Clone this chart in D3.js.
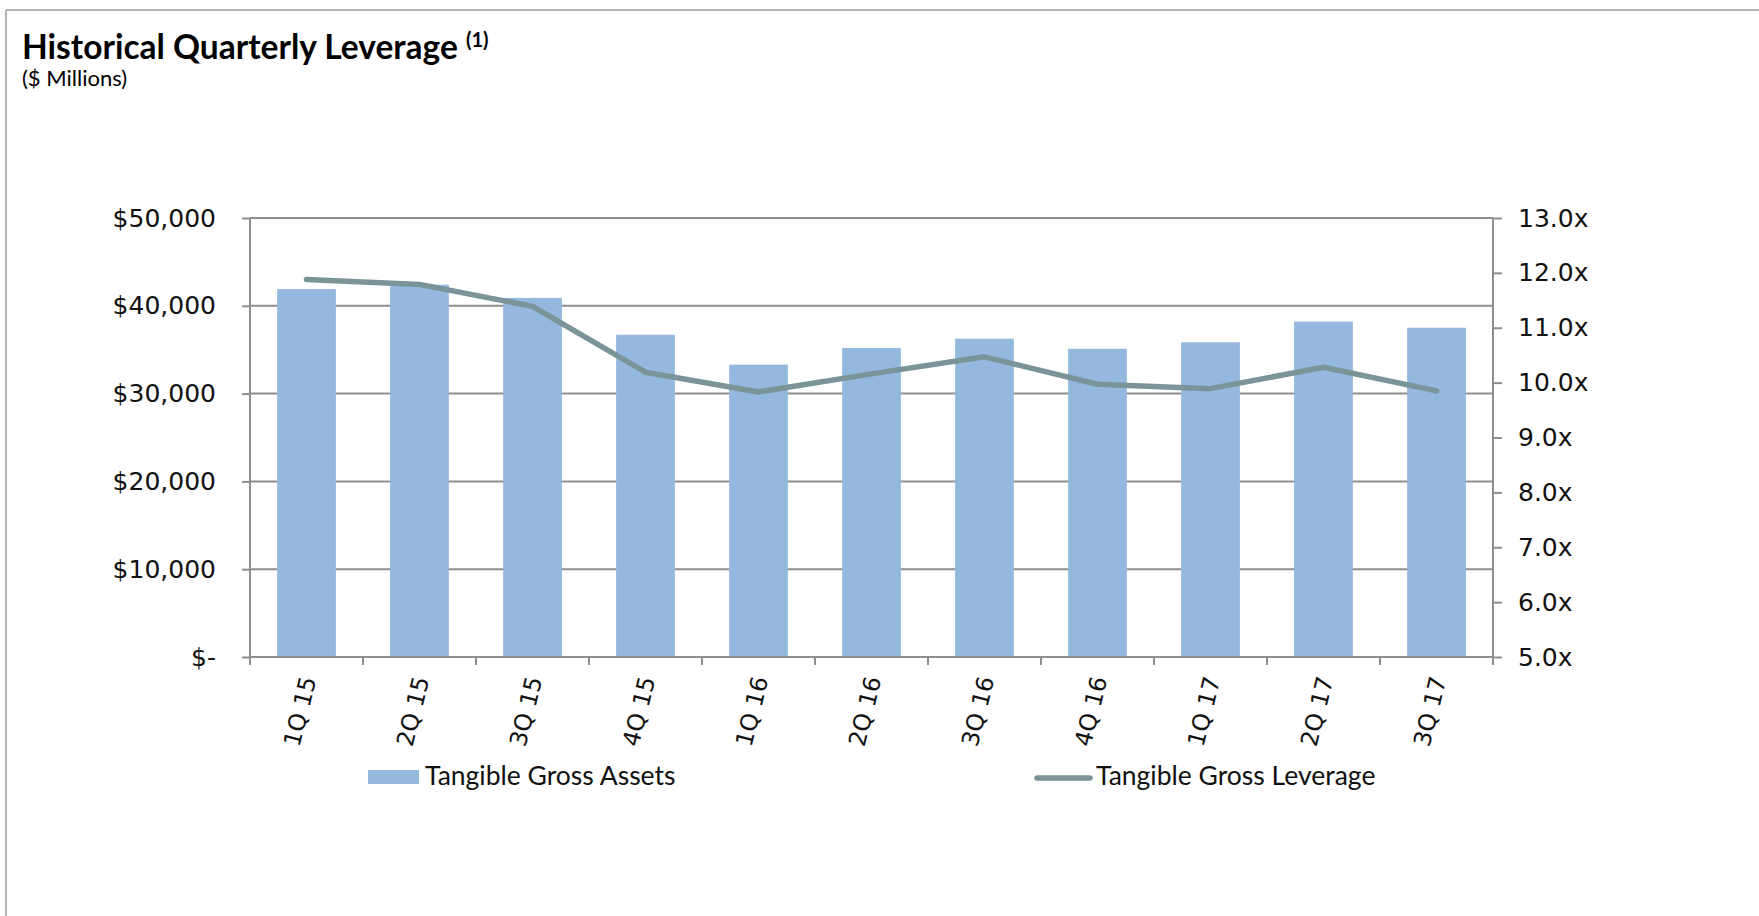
<!DOCTYPE html>
<html>
<head>
<meta charset="utf-8">
<script src="https://cdn.jsdelivr.net/npm/d3@7"></script>
<style>
  html, body { margin: 0; padding: 0; background: #fff; }
  svg { display: block; }
</style>
</head>
<body>
<svg id="chart" width="1759" height="916"></svg>
<script>
// ---- Data ----
const categories = ["1Q 15","2Q 15","3Q 15","4Q 15","1Q 16","2Q 16","3Q 16","4Q 16","1Q 17","2Q 17","3Q 17"];
const tangibleGrossAssets = [41900, 42400, 40900, 36700, 33300, 35200, 36250, 35100, 35850, 38200, 37500];
const tangibleGrossLeverage = [11.88, 11.79, 11.39, 10.19, 9.83, 10.16, 10.47, 9.97, 9.89, 10.28, 9.85];
const leftTicks = [0, 10000, 20000, 30000, 40000, 50000];
const rightTicks = [5, 6, 7, 8, 9, 10, 11, 12, 13];
const seriesNames = ["Tangible Gross Assets", "Tangible Gross Leverage"];

// ---- Layout ----
const svg = d3.select("#chart");
const W = 1759, H = 916;
const plot = { left: 250, right: 1493, top: 218, bottom: 657 };
const gridColor = "#8e8e8e";
const barColor = "#95b9de";
const lineColor = "#7a9499";
const tickFont = "'DejaVu Sans', sans-serif";
const textFont = "Lato, 'Liberation Sans', sans-serif";

svg.append("rect").attr("width", W).attr("height", H).attr("fill", "#fff");

// frame (top and left border)
svg.append("line").attr("x1", 6).attr("x2", W).attr("y1", 10).attr("y2", 10)
  .attr("stroke", "#b3b3b3").attr("stroke-width", 2);
svg.append("line").attr("x1", 6).attr("x2", 6).attr("y1", 10).attr("y2", H)
  .attr("stroke", "#b3b3b3").attr("stroke-width", 2);

// title
const title = svg.append("text").attr("x", 22).attr("y", 59)
  .attr("font-family", textFont).attr("font-weight", 700).attr("font-size", 33.5)
  .attr("fill", "#000");
title.append("tspan").text("Historical Quarterly Leverage ");
title.append("tspan").attr("font-size", 20).attr("dy", -12).text("(1)");
svg.append("text").attr("x", 22).attr("y", 86)
  .attr("font-family", textFont).attr("font-size", 22).attr("fill", "#000")
  .text("($ Millions)");

// scales
const x = d3.scaleBand().domain(categories).range([plot.left, plot.right]).paddingInner(0.48).paddingOuter(0.24);
const xOuter = d3.scaleBand().domain(categories).range([plot.left, plot.right]);
const yL = d3.scaleLinear().domain([0, 50000]).range([plot.bottom, plot.top]);
const yR = d3.scaleLinear().domain([5, 13]).range([plot.bottom, plot.top]);

// left axis ticks + labels
const fmtLeft = v => v === 0 ? "$-" : "$" + d3.format(",")(v);
const gLeft = svg.append("g").attr("transform", `translate(${plot.left},0)`)
  .call(d3.axisLeft(yL).tickValues(leftTicks).tickFormat(fmtLeft).tickSize(8).tickPadding(26));
gLeft.select(".domain").remove();
gLeft.selectAll(".tick line").attr("stroke", gridColor).attr("stroke-width", 2);
gLeft.selectAll(".tick text").attr("font-family", tickFont).attr("font-size", 25).attr("fill", "#111");

// gridlines
svg.append("g").selectAll("line").data(leftTicks).join("line")
  .attr("x1", plot.left).attr("x2", plot.right)
  .attr("y1", d => yL(d)).attr("y2", d => yL(d))
  .attr("stroke", gridColor).attr("stroke-width", 2);

// bars
svg.append("g").selectAll("rect").data(categories).join("rect")
  .attr("x", d => x(d)).attr("width", x.bandwidth())
  .attr("y", (d, i) => yL(tangibleGrossAssets[i]))
  .attr("height", (d, i) => yL(0) - yL(tangibleGrossAssets[i]))
  .attr("fill", barColor);

// baseline over bars
svg.append("line").attr("x1", plot.left).attr("x2", plot.right)
  .attr("y1", yL(0)).attr("y2", yL(0)).attr("stroke", gridColor).attr("stroke-width", 2);

// vertical axis lines
svg.append("line").attr("x1", plot.left).attr("x2", plot.left)
  .attr("y1", plot.top).attr("y2", plot.bottom + 8).attr("stroke", gridColor).attr("stroke-width", 2);
svg.append("line").attr("x1", plot.right).attr("x2", plot.right)
  .attr("y1", plot.top).attr("y2", plot.bottom + 8).attr("stroke", gridColor).attr("stroke-width", 2);

// right axis
const gRight = svg.append("g").attr("transform", `translate(${plot.right},0)`)
  .call(d3.axisRight(yR).tickValues(rightTicks).tickFormat(v => d3.format(".1f")(v) + "x").tickSize(9).tickPadding(16));
gRight.select(".domain").remove();
gRight.selectAll(".tick line").attr("stroke", gridColor).attr("stroke-width", 2);
gRight.selectAll(".tick text").attr("font-family", tickFont).attr("font-size", 25).attr("fill", "#111");

// category boundary ticks
const bounds = categories.map(c => xOuter(c)).concat([plot.right]);
svg.append("g").selectAll("line").data(bounds).join("line")
  .attr("x1", d => d).attr("x2", d => d)
  .attr("y1", plot.bottom).attr("y2", plot.bottom + 8)
  .attr("stroke", gridColor).attr("stroke-width", 2);

// x labels (rotated)
svg.append("g").selectAll("text").data(categories).join("text")
  .attr("transform", d => `translate(${xOuter(d) + xOuter.bandwidth() / 2 + 2},${plot.bottom + 20}) rotate(-76)`)
  .attr("text-anchor", "end").attr("dy", "0.35em")
  .attr("font-family", tickFont).attr("font-size", 23.5).attr("fill", "#111")
  .text(d => d);

// leverage line
const line = d3.line()
  .x((d, i) => xOuter(categories[i]) + xOuter.bandwidth() / 2)
  .y(d => yR(d));
svg.append("path").datum(tangibleGrossLeverage)
  .attr("d", line).attr("fill", "none")
  .attr("stroke", lineColor).attr("stroke-width", 5.5)
  .attr("stroke-linecap", "round").attr("stroke-linejoin", "round");

// legend
const lg = svg.append("g");
lg.append("rect").attr("x", 368).attr("y", 770).attr("width", 51).attr("height", 14).attr("fill", barColor);
lg.append("text").attr("x", 425).attr("y", 785)
  .attr("font-family", textFont).attr("font-size", 26.5).attr("fill", "#111").text(seriesNames[0]);
lg.append("line").attr("x1", 1037).attr("x2", 1090).attr("y1", 778).attr("y2", 778)
  .attr("stroke", lineColor).attr("stroke-width", 5.5).attr("stroke-linecap", "round");
lg.append("text").attr("x", 1096).attr("y", 785)
  .attr("font-family", textFont).attr("font-size", 26.5).attr("fill", "#111").text(seriesNames[1]);
</script>
</body>
</html>
